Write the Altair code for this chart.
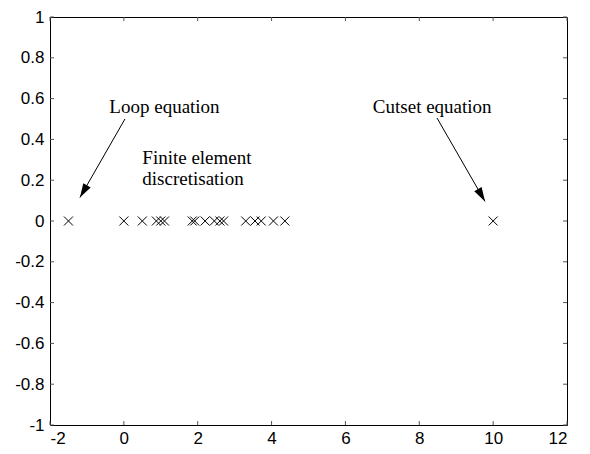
import altair as alt
import pandas as pd

# Eigenvalue-like points on the real axis (all at y = 0)
loop_x = [-1.5]
fe_x = [0.0, 0.5, 0.88, 1.0, 1.1,
        1.85, 1.92, 2.2, 2.45, 2.6, 2.7,
        3.3, 3.55, 3.72, 4.05, 4.36]
cutset_x = [10.0]

x_ticks = [-2, 0, 2, 4, 6, 8, 10, 12]
y_ticks = [-1, -0.8, -0.6, -0.4, -0.2, 0, 0.2, 0.4, 0.6, 0.8, 1]

# annotations
label_text = ["Loop equation", "Cutset equation"]
label_x = [1.1, 8.35]
label_y = [0.56, 0.56]

fe_text = ["Finite element", "discretisation"]
fe_text_x = [0.5, 0.5]
fe_text_y = [0.31, 0.205]

arrow_x = [0.03, 8.48]
arrow_y = [0.50, 0.505]
arrow_x2 = [-1.19, 9.78]
arrow_y2 = [0.115, 0.096]
arrow_angle = [30, 330]

W, H = 517, 408

pts = pd.DataFrame({"x": loop_x + fe_x + cutset_x})
pts["y"] = 0.0

xs = alt.Scale(domain=[-2, 12], nice=False, zero=False)
ys = alt.Scale(domain=[-1, 1], nice=False, zero=False)

axis_common = dict(ticks=False, domain=False, grid=False, title=None,
                   labelFont="Liberation Sans", labelFontSize=17,
                   labelColor="black", labelExpr="'' + datum.value")

xax = alt.Axis(values=x_ticks, labelPadding=5, **axis_common)
yax = alt.Axis(values=y_ticks, labelPadding=6, **axis_common)

X_SHAPE = "M-1,-1L1,1M1,-1L-1,1"
ARROW_SHAPE = "M0,0L-0.3,-1L0.3,-1Z"

points = alt.Chart(pts).mark_point(
    shape=X_SHAPE, size=81, color="black", filled=False, strokeWidth=1, opacity=1
).encode(
    x=alt.X("x:Q", scale=xs, axis=xax),
    y=alt.Y("y:Q", scale=ys, axis=yax),
)

xt = pd.DataFrame({"t": x_ticks})
yt = pd.DataFrame({"t": y_ticks})

tick_style = dict(color="#555555", strokeWidth=1)
xt_bottom = alt.Chart(xt).mark_rule(**tick_style).encode(
    x=alt.X("t:Q", scale=xs), y=alt.value(H), y2=alt.value(H - 4))
xt_top = alt.Chart(xt).mark_rule(**tick_style).encode(
    x=alt.X("t:Q", scale=xs), y=alt.value(0), y2=alt.value(4))
yt_left = alt.Chart(yt).mark_rule(**tick_style).encode(
    y=alt.Y("t:Q", scale=ys), x=alt.value(0), x2=alt.value(4))
yt_right = alt.Chart(yt).mark_rule(**tick_style).encode(
    y=alt.Y("t:Q", scale=ys), x=alt.value(W), x2=alt.value(W - 4))

lab = pd.DataFrame({"text": label_text, "x": label_x, "y": label_y})
labels = alt.Chart(lab).mark_text(
    font="Liberation Serif", fontSize=19, color="black", align="center", baseline="middle"
).encode(x=alt.X("x:Q", scale=xs), y=alt.Y("y:Q", scale=ys), text="text:N")

fel = pd.DataFrame({"text": fe_text, "x": fe_text_x, "y": fe_text_y})
fe_labels = alt.Chart(fel).mark_text(
    font="Liberation Serif", fontSize=19, color="black", align="left", baseline="middle"
).encode(x=alt.X("x:Q", scale=xs), y=alt.Y("y:Q", scale=ys), text="text:N")

arr = pd.DataFrame({"x": arrow_x, "y": arrow_y, "x2": arrow_x2, "y2": arrow_y2,
                    "angle": arrow_angle})
arrow_lines = alt.Chart(arr).mark_rule(color="black", strokeWidth=1).encode(
    x=alt.X("x:Q", scale=xs), y=alt.Y("y:Q", scale=ys), x2="x2:Q", y2="y2:Q")
arrow_heads = alt.Chart(arr).mark_point(
    shape=ARROW_SHAPE, size=800, filled=True, color="black", opacity=1, strokeWidth=0
).encode(
    x=alt.X("x2:Q", scale=xs), y=alt.Y("y2:Q", scale=ys),
    angle=alt.Angle("angle:Q", scale=None),
)

chart = alt.layer(
    points, xt_bottom, xt_top, yt_left, yt_right,
    labels, fe_labels, arrow_lines, arrow_heads
).properties(
    width=W, height=H,
    autosize=alt.AutoSizeParams(type="none"),
    padding={"left": 42, "top": 9, "right": 15, "bottom": 25},
    background="white",
).configure_view(
    stroke="black", strokeWidth=1
)

chart.save("out.html", embed_options={"renderer": "svg", "actions": False})
